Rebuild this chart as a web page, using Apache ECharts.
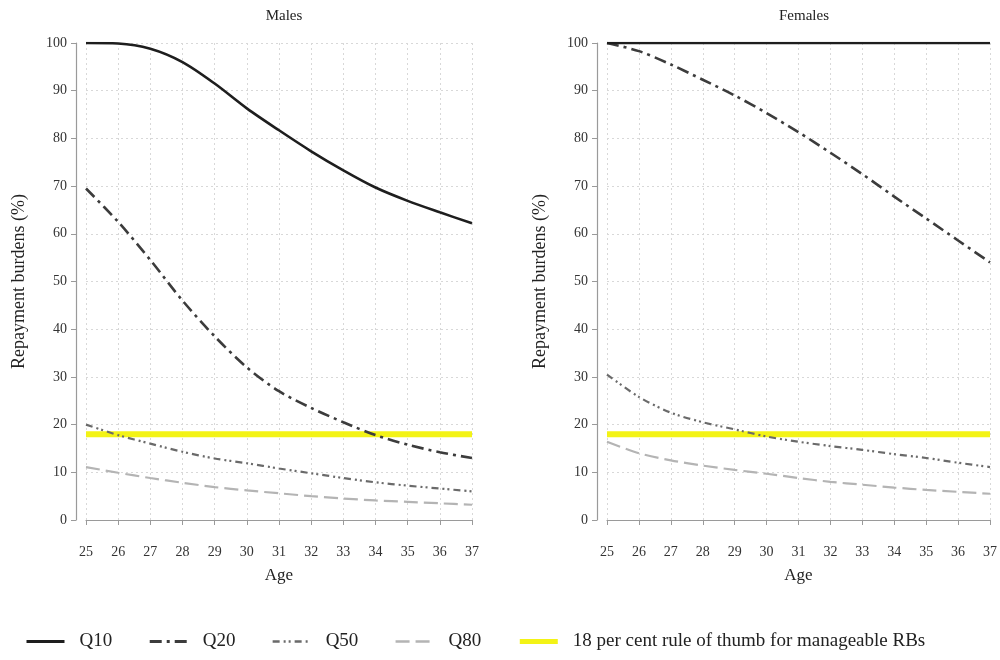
<!DOCTYPE html>
<html>
<head>
<meta charset="utf-8">
<script src="https://cdn.jsdelivr.net/npm/echarts@6/dist/echarts.min.js"></script>
<style>
  html, body { margin: 0; padding: 0; background: #fff; }
  #chart { width: 1000px; height: 660px; }
</style>
</head>
<body>
<div id="chart"></div>
<script>
// Ages on the horizontal axis
const ages = [25, 26, 27, 28, 29, 30, 31, 32, 33, 34, 35, 36, 37];

// Repayment burdens (%) by percentile of the earnings distribution — males
const maleQ10 = [100, 99.9, 98.8, 96.0, 91.5, 86.3, 81.7, 77.3, 73.3, 69.7, 66.9, 64.5, 62.2];
const maleQ20 = [69.5, 62.5, 54.5, 46.0, 38.5, 32.0, 27.0, 23.5, 20.5, 17.8, 15.8, 14.2, 13.0];
const maleQ50 = [20.0, 17.8, 16.0, 14.3, 12.9, 11.9, 10.8, 9.8, 8.8, 7.9, 7.2, 6.6, 6.0];
const maleQ80 = [11.1, 9.9, 8.8, 7.8, 6.9, 6.2, 5.6, 5.0, 4.5, 4.1, 3.8, 3.5, 3.2];

// Repayment burdens (%) — females
const femaleQ10 = [100, 100, 100, 100, 100, 100, 100, 100, 100, 100, 100, 100, 100];
const femaleQ20 = [100, 98.3, 95.5, 92.3, 89.0, 85.3, 81.3, 77.0, 72.5, 67.8, 63.2, 58.6, 54.0];
const femaleQ50 = [30.5, 25.8, 22.5, 20.5, 19.0, 17.5, 16.4, 15.5, 14.7, 13.8, 13.0, 12.0, 11.1];
const femaleQ80 = [16.4, 14.0, 12.5, 11.4, 10.5, 9.7, 8.8, 8.0, 7.4, 6.8, 6.3, 5.9, 5.5];

// Manageable repayment burden threshold (%)
const ruleOfThumb = [18, 18, 18, 18, 18, 18, 18, 18, 18, 18, 18, 18, 18];

const panelTitles = ['Males', 'Females'];
const seriesNames = ['Q10', 'Q20', 'Q50', 'Q80', '18 per cent rule of thumb for manageable RBs'];

const FONT = '"Liberation Serif", "DejaVu Serif", serif';

const styles = [
  { color: '#1e1e1e', width: 2.6, legendWidth: 3, type: 'solid' },
  { color: '#3c3c3c', width: 2.6, legendWidth: 3, type: [12, 5, 3, 5] },
  { color: '#6a6a6a', width: 2.2, legendWidth: 2.4, type: [7, 4, 2, 3, 2, 4] },
  { color: '#b4b4b4', width: 2.2, legendWidth: 2.4, type: [14, 6] },
  { color: '#f2f20a', width: 6, legendWidth: 5, type: 'solid' }
];

const panels = [
  { data: [maleQ10, maleQ20, maleQ50, maleQ80, ruleOfThumb] },
  { data: [femaleQ10, femaleQ20, femaleQ50, femaleQ80, ruleOfThumb] }
];

function pairs(values) {
  return ages.map((a, i) => [a, values[i]]);
}

const grids = [
  { left: 86, right: 528, top: 43, bottom: 140 },
  { left: 607, right: 9, top: 43, bottom: 140 }
];

const xAxes = grids.map((g, i) => ({
  type: 'value', gridIndex: i, min: 25, max: 37, interval: 1,
  offset: 12,
  name: 'Age', nameLocation: 'middle', nameGap: 35,
  nameTextStyle: { fontFamily: FONT, fontSize: 17, color: '#222' },
  axisLine: { show: true, lineStyle: { color: '#9a9a9a', width: 1.2 } },
  axisTick: { show: true, length: 5, lineStyle: { color: '#9a9a9a' } },
  axisLabel: { fontFamily: FONT, fontSize: 14, color: '#333', margin: 13 },
  splitLine: { show: true, lineStyle: { color: '#d8d8d8', type: [2, 3], width: 1 } }
}));

const yAxes = grids.map((g, i) => ({
  type: 'value', gridIndex: i, min: 0, max: 100, interval: 10,
  offset: 10,
  name: 'Repayment burdens (%)', nameLocation: 'middle', nameGap: 48,
  nameTextStyle: { fontFamily: FONT, fontSize: 18, color: '#222' },
  axisLine: { show: true, lineStyle: { color: '#9a9a9a', width: 1.2 } },
  axisTick: { show: true, length: 5, lineStyle: { color: '#9a9a9a' } },
  axisLabel: { fontFamily: FONT, fontSize: 14, color: '#333', margin: 9 },
  splitLine: { show: true, lineStyle: { color: '#d8d8d8', type: [2, 3], width: 1 } }
}));

const series = [];
panels.forEach((p, pi) => {
  p.data.forEach((vals, si) => {
    const st = styles[si];
    series.push({
      name: seriesNames[si],
      type: 'line',
      xAxisIndex: pi, yAxisIndex: pi,
      data: pairs(vals),
      smooth: 0.3,
      symbol: 'none',
      z: si === 4 ? 1 : 5 - si,
      itemStyle: { color: st.color },
      lineStyle: { color: st.color, width: st.width, type: st.type, opacity: si === 4 ? 0.95 : 1 },
      emphasis: { disabled: true },
      animation: false
    });
  });
});

const chart = echarts.init(document.getElementById('chart'), null, { renderer: 'canvas' });
chart.setOption({
  backgroundColor: '#ffffff',
  animation: false,
  title: panelTitles.map((t, i) => ({
    text: t,
    left: i === 0 ? 279 : 799,
    textAlign: 'center',
    top: 4,
    textStyle: { fontFamily: FONT, fontSize: 15, fontWeight: 'normal', color: '#222' }
  })),
  grid: grids,
  xAxis: xAxes,
  yAxis: yAxes,
  legend: {
    show: true,
    data: seriesNames.map((n, i) => ({
      name: n,
      lineStyle: { width: styles[i].legendWidth }
    })),
    left: 25,
    top: 632,
    padding: 0,
    itemWidth: 38,
    itemHeight: 14,
    itemGap: 36,
    itemStyle: { opacity: 0 },
    textStyle: { fontFamily: FONT, fontSize: 19, color: '#222', padding: [0, 0, 0, 10] },
    selectedMode: false
  },
  series: series
});
</script>
</body>
</html>
